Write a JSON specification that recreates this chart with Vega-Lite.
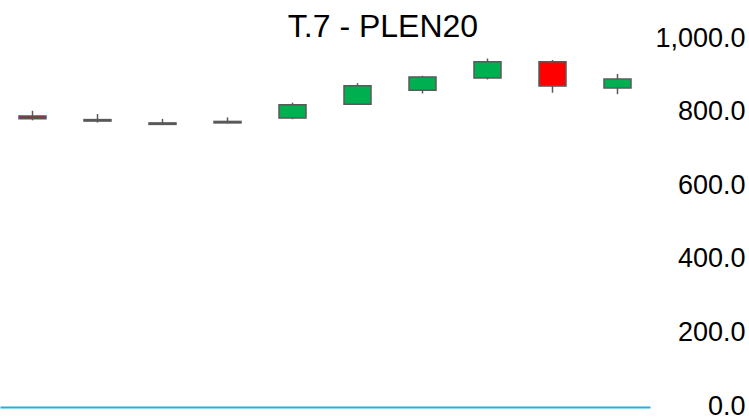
{
  "$schema": "https://vega.github.io/schema/vega-lite/v6.json",
  "width": 650,
  "height": 368,
  "autosize": {"type": "none"},
  "padding": {"left": 0, "top": 39, "right": 99, "bottom": 12},
  "background": "white",
  "config": {"view": {"stroke": null}, "font": "Liberation Sans"},
  "title": {
    "text": "T.7 - PLEN20",
    "fontSize": 32,
    "font": "Liberation Sans",
    "fontWeight": "normal",
    "color": "#000000",
    "anchor": "middle",
    "baseline": "top",
    "offset": -20,
    "dx": 58
  },
  "data": {
    "values": [
      {"period": "1", "open": 791, "close": 783, "high": 805, "low": 779},
      {"period": "2", "open": 777, "close": 781, "high": 796, "low": 773},
      {"period": "3", "open": 768, "close": 772, "high": 783, "low": 766},
      {"period": "4", "open": 772, "close": 776, "high": 787, "low": 771},
      {"period": "5", "open": 785, "close": 821, "high": 827, "low": 782},
      {"period": "6", "open": 823, "close": 873, "high": 880, "low": 822},
      {"period": "7", "open": 861, "close": 897, "high": 900, "low": 852},
      {"period": "8", "open": 894, "close": 938, "high": 947, "low": 890},
      {"period": "9", "open": 938, "close": 872, "high": 943, "low": 854},
      {"period": "10", "open": 867, "close": 891, "high": 905, "low": 850}
    ]
  },
  "encoding": {
    "x": {
      "field": "period",
      "type": "ordinal",
      "sort": null,
      "scale": {"paddingInner": 0, "paddingOuter": 0},
      "axis": {
        "title": null,
        "labels": false,
        "ticks": false,
        "domain": true,
        "domainColor": "#1FB1E3",
        "domainWidth": 2,
        "grid": false
      }
    }
  },
  "layer": [
    {
      "mark": {"type": "rule", "color": "#595959", "strokeWidth": 1.5},
      "encoding": {
        "y": {
          "field": "low",
          "type": "quantitative",
          "scale": {"domain": [0, 1000], "nice": false, "zero": true},
          "axis": {
            "orient": "right",
            "title": null,
            "values": [0, 200, 400, 600, 800, 1000],
            "format": ",.1f",
            "ticks": false,
            "domain": false,
            "grid": false,
            "labelAlign": "right",
            "labelBaseline": "middle",
            "labelPadding": 95,
            "labelOffset": -1,
            "labelFontSize": 27,
            "labelFont": "Liberation Sans",
            "labelColor": "#000000"
          }
        },
        "y2": {"field": "high"}
      }
    },
    {
      "mark": {"type": "bar", "size": 27, "stroke": "#595959", "strokeWidth": 1.5},
      "encoding": {
        "y": {"field": "open", "type": "quantitative"},
        "y2": {"field": "close"},
        "fill": {
          "condition": {"test": "datum.close >= datum.open", "value": "#00B050"},
          "value": "#FF0000"
        }
      }
    }
  ]
}
